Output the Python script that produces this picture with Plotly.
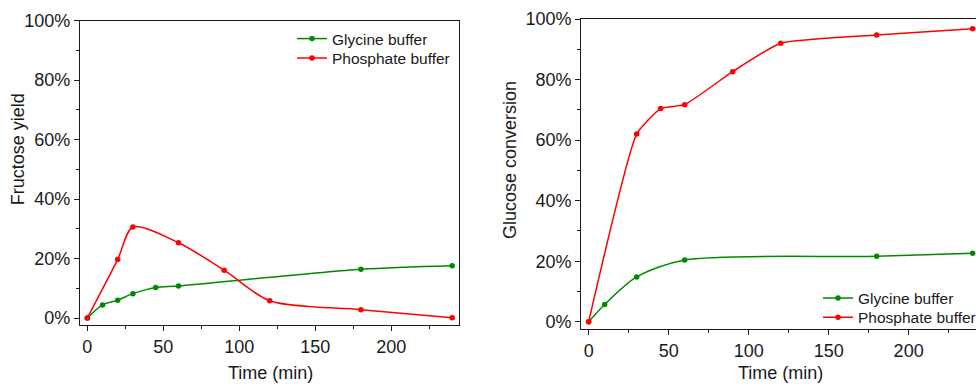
import plotly.graph_objects as go

# Fructose yield (%) versus time (min)
fy_gly_t = [0, 10, 20, 30, 45, 60, 180, 240]
fy_gly_v = [0, 4.4, 6.0, 8.2, 10.3, 10.8, 16.4, 17.6]
fy_pho_t = [0, 20, 30, 60, 90, 120, 180, 240]
fy_pho_v = [0, 19.7, 30.6, 25.3, 16.1, 5.8, 2.8, 0.1]

# Glucose conversion (%) versus time (min)
gc_gly_t = [0, 10, 30, 60, 180, 240]
gc_gly_v = [0, 5.7, 14.8, 20.4, 21.6, 22.6]
gc_pho_t = [0, 30, 45, 60, 90, 120, 180, 240]
gc_pho_v = [0, 62.0, 70.4, 71.7, 82.6, 92.0, 94.7, 96.8]

series_names = ["Glycine buffer", "Phosphate buffer"]
x_ticks = [0, 50, 100, 150, 200]
y_ticks = [0, 20, 40, 60, 80, 100]
y_tick_text = ["0%", "20%", "40%", "60%", "80%", "100%"]

GREEN = "#008a00"
RED = "#ff0000"
INK = "#1a1a1a"
FONT = "Arial, 'Liberation Sans', sans-serif"

W, H = 976, 384


def px(v):
    return v / W


def py(v):
    return 1 - v / H


fig = go.Figure()

def add(t, v, color, name, xa, ya, leg, smooth):
    fig.add_trace(go.Scatter(
        x=t, y=v, name=name, mode="lines+markers",
        line=dict(color=color, width=1.5, shape="spline", smoothing=smooth),
        marker=dict(color=color, size=5.5),
        xaxis=xa, yaxis=ya, legend=leg,
    ))

add(fy_gly_t, fy_gly_v, GREEN, series_names[0], "x", "y", "legend", 0.8)
add(fy_pho_t, fy_pho_v, RED, series_names[1], "x", "y", "legend2", 0.8)
add(gc_gly_t, gc_gly_v, GREEN, series_names[0], "x2", "y2", "legend3", 0.8)
add(gc_pho_t, gc_pho_v, RED, series_names[1], "x2", "y2", "legend4", 0.45)

axis_common = dict(
    showgrid=False, zeroline=False, showline=True, linecolor=INK, linewidth=1.3,
    ticks="outside", ticklen=5, tickwidth=1.2, tickcolor=INK,
    tickfont=dict(family=FONT, size=18, color=INK),
)
x_minor = dict(dtick=25, ticklen=3, tickcolor=INK, ticks="outside")
y_minor = dict(dtick=10, ticklen=3, tickcolor=INK, ticks="outside")

fig.update_layout(
    width=W, height=H,
    margin=dict(l=0, r=0, t=0, b=0, autoexpand=False),
    paper_bgcolor="white", plot_bgcolor="white",
    showlegend=True,
    xaxis=dict(domain=[px(80), px(459)], range=[-4.8, 244.5], tickvals=x_ticks,
               minor=x_minor, mirror=True, anchor="y", **axis_common),
    yaxis=dict(domain=[py(325), py(20.7)], range=[-2.35, 100], tickvals=y_ticks,
               ticktext=y_tick_text, minor=y_minor, mirror=True, anchor="x",
               **axis_common),
    xaxis2=dict(domain=[px(581.3), 1], range=[-4.6, 242.1], tickvals=x_ticks,
                minor=x_minor, mirror=True, anchor="y2", **axis_common),
    yaxis2=dict(domain=[py(329), py(19)], range=[-2.4, 100], tickvals=y_ticks,
                ticktext=y_tick_text, minor=y_minor, mirror=False, anchor="x2",
                **axis_common),
)

legend_common = dict(font=dict(family=FONT, size=15.5, color=INK),
                     bgcolor="rgba(0,0,0,0)", borderwidth=0,
                     xanchor="left", yanchor="top")
fig.update_layout(
    legend=dict(x=px(292), y=py(22), **legend_common),
    legend2=dict(x=px(292), y=py(41.4), **legend_common),
    legend3=dict(x=px(818), y=py(281.4), **legend_common),
    legend4=dict(x=px(818), y=py(300.7), **legend_common),
)

title_font = dict(family=FONT, size=18, color=INK)
for text, x, y, ang in [
    ("Time (min)", 270, 373, 0),
    ("Time (min)", 780, 373, 0),
    ("Fructose yield", 18.3, 149, -90),
    ("Glucose conversion", 510, 160, -90),
]:
    fig.add_annotation(text=text, x=px(x), y=py(y), xref="paper", yref="paper",
                       xanchor="center", yanchor="middle", showarrow=False,
                       textangle=ang, font=title_font)

fig.write_html("out.html")
